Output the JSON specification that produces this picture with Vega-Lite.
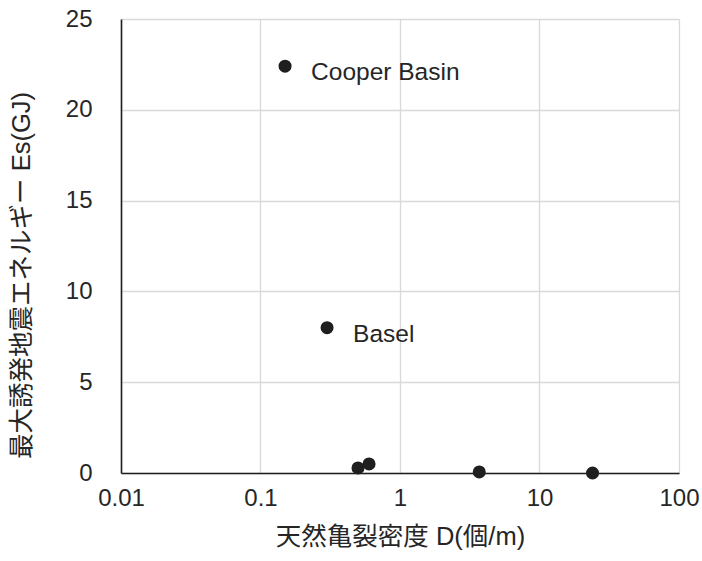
{
  "$schema": "https://vega.github.io/schema/vega-lite/v6.json",
  "width": 558,
  "height": 454,
  "autosize": {"type": "none"},
  "padding": {"left": 121, "top": 19, "right": 23, "bottom": 88},
  "config": {
    "view": {"stroke": null},
    "font": "Liberation Sans, Noto Sans CJK JP, sans-serif",
    "axis": {
      "grid": true,
      "gridColor": "#d9d9d9",
      "gridWidth": 1.3,
      "domain": true,
      "domainColor": "#1f1f1f",
      "domainWidth": 1.6,
      "ticks": false,
      "labelFontSize": 24,
      "labelColor": "#262626",
      "titleFontSize": 25.5,
      "titleFontWeight": "normal",
      "titleColor": "#262626",
      "labelFlush": false,
      "labelOverlap": false
    }
  },
  "data": {
    "values": [
      {"D": 0.15, "Es": 22.4, "label": "Cooper Basin"},
      {"D": 0.30, "Es": 8.0, "label": "Basel"},
      {"D": 0.50, "Es": 0.28, "label": ""},
      {"D": 0.60, "Es": 0.5, "label": ""},
      {"D": 3.7, "Es": 0.06, "label": ""},
      {"D": 24, "Es": 0.0, "label": ""}
    ]
  },
  "encoding": {
    "x": {
      "field": "D",
      "type": "quantitative",
      "scale": {"type": "log", "domain": [0.01, 100]},
      "axis": {
        "values": [0.01, 0.1, 1, 10, 100],
        "format": "~g",
        "labelPadding": 13,
        "title": "天然亀裂密度 D(個/m)",
        "titlePadding": 14
      }
    },
    "y": {
      "field": "Es",
      "type": "quantitative",
      "scale": {"domain": [0, 25], "nice": false, "zero": true},
      "axis": {
        "values": [0, 5, 10, 15, 20, 25],
        "labelPadding": 29,
        "title": "最大誘発地震エネルギー Es(GJ)",
        "titlePadding": 31,
        "titleY": 256
      }
    }
  },
  "layer": [
    {
      "mark": {"type": "point", "filled": true, "size": 170, "color": "#1f1f1f", "opacity": 1}
    },
    {
      "mark": {"type": "text", "align": "left", "baseline": "middle", "dx": 26, "dy": 7, "fontSize": 24.5, "color": "#262626"},
      "encoding": {"text": {"field": "label"}}
    }
  ]
}
